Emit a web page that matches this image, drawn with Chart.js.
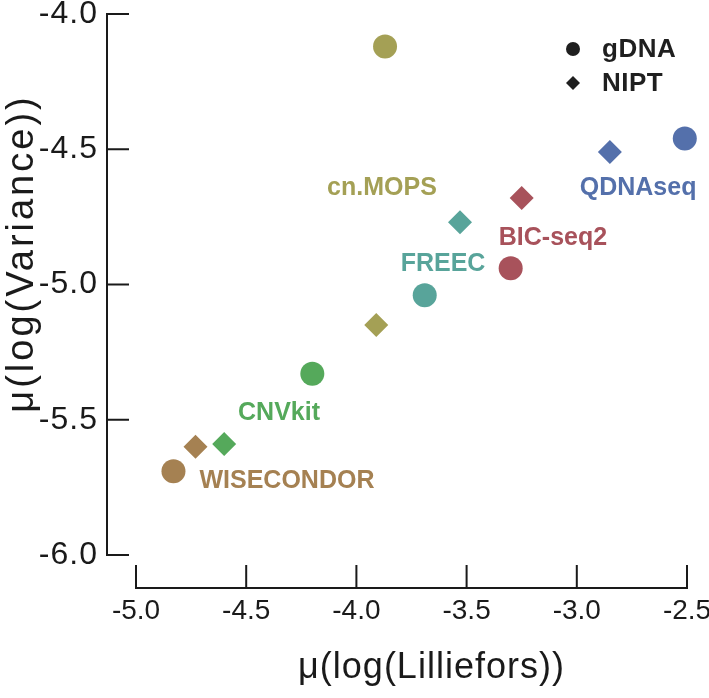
<!DOCTYPE html>
<html>
<head>
<meta charset="utf-8">
<script src="https://cdn.jsdelivr.net/npm/chart.js@4.4.1/dist/chart.umd.min.js"></script>
<style>
  html, body { margin: 0; padding: 0; background: #fff; }
  #wrap { width: 709px; height: 698px; }
</style>
</head>
<body>
<div id="wrap"><canvas id="chart" width="709" height="698"></canvas></div>
<script>
// ---- data ----
const methods = ['cn.MOPS', 'QDNAseq', 'BIC-seq2', 'FREEC', 'CNVkit', 'WISECONDOR'];
const gdnaX = [-3.87, -2.51, -3.30, -3.69, -4.20, -4.83];
const gdnaY = [-4.12, -4.46, -4.94, -5.04, -5.33, -5.69];
const niptX = [-3.91, -2.85, -3.25, -3.53, -4.60, -4.73];
const niptY = [-5.15, -4.51, -4.68, -4.77, -5.59, -5.60];
const xTicks = [-5.0, -4.5, -4.0, -3.5, -3.0, -2.5];
const yTicks = [-6.0, -5.5, -5.0, -4.5, -4.0];

// colours per method
const methodColors = ['#a4a055', '#5470ab', '#a8525b', '#58a49a', '#55a95b', '#a58152'];
// where each method name is written (data units)
const labelX = [-3.884, -2.722, -3.108, -3.607, -4.351, -4.315];
const labelY = [-4.643, -4.643, -4.828, -4.924, -5.475, -5.726];

const FONT = "'Liberation Sans', Arial, Helvetica, sans-serif";
Chart.defaults.font.family = FONT;
Chart.defaults.color = '#1a1a1a';

function toPoints(xs, ys) {
    return xs.map((v, i) => ({ x: v, y: ys[i] }));
}

// fixed box sizes, no extra label padding
function fixBox(size, horizontal) {
    return s => {
        if (horizontal) s.height = size; else s.width = size;
        s.paddingTop = s.paddingBottom = s.paddingLeft = s.paddingRight = 0;
    };
}

// the figure's text is tracked out a bit; titles are also nudged along the axis
const textStyle = {
    x: { labels: '0px', title: '1px', shift: [20, 0] },
    y: { labels: '1px', title: '3px', shift: [0, -31] }
};
function wrapDraw(scale, name, spacing, shift) {
    const orig = scale[name];
    scale[name] = function () {
        const c = this.ctx;
        c.save();
        if (shift) c.translate(shift[0], shift[1]);
        c.letterSpacing = spacing;
        orig.apply(this, arguments);
        c.restore();
    };
}
const trackPlugin = {
    id: 'track',
    afterLayout(chart) {
        Object.keys(textStyle).forEach(id => {
            const sc = chart.scales[id];
            if (sc._tracked) return;
            const st = textStyle[id];
            wrapDraw(sc, 'drawLabels', st.labels, null);
            wrapDraw(sc, 'drawTitle', st.title, st.shift);
            sc._tracked = true;
        });
    }
};

// offset axis lines with inward ticks + method labels + legend
const decorPlugin = {
    id: 'decor',
    afterDraw(chart) {
        const { ctx, chartArea } = chart;
        const xs = chart.scales.x, ys = chart.scales.y;
        const ax = chartArea.left - 29;
        const ay = chartArea.bottom + 33;
        ctx.save();
        ctx.strokeStyle = '#1a1a1a';
        ctx.lineWidth = 2;
        ctx.lineCap = 'square';
        ctx.beginPath();
        ctx.moveTo(ax, ys.getPixelForValue(ys.max));
        ctx.lineTo(ax, ys.getPixelForValue(ys.min));
        yTicks.forEach(v => {
            const py = ys.getPixelForValue(v);
            ctx.moveTo(ax, py);
            ctx.lineTo(ax + 21, py);
        });
        ctx.moveTo(xs.getPixelForValue(xs.min), ay);
        ctx.lineTo(xs.getPixelForValue(xs.max), ay);
        xTicks.forEach(v => {
            const px = xs.getPixelForValue(v);
            ctx.moveTo(px, ay);
            ctx.lineTo(px, ay - 22);
        });
        ctx.stroke();

        // method names
        ctx.font = 'bold 25px ' + FONT;
        ctx.textAlign = 'center';
        ctx.textBaseline = 'middle';
        methods.forEach((m, i) => {
            ctx.fillStyle = methodColors[i];
            ctx.fillText(m, xs.getPixelForValue(labelX[i]), ys.getPixelForValue(labelY[i]));
        });

        // legend, top right
        const lx = chartArea.right - 114;
        const ly = chartArea.top + 35;
        ctx.fillStyle = '#1f1f1f';
        ctx.beginPath();
        ctx.arc(lx, ly, 7, 0, Math.PI * 2);
        ctx.fill();
        ctx.beginPath();
        ctx.moveTo(lx - 7, ly + 34);
        ctx.lineTo(lx, ly + 27);
        ctx.lineTo(lx + 7, ly + 34);
        ctx.lineTo(lx, ly + 41);
        ctx.closePath();
        ctx.fill();
        ctx.textAlign = 'left';
        ctx.font = 'bold 26px ' + FONT;
        ctx.letterSpacing = '0.5px';
        ctx.fillText('gDNA', lx + 29, ly + 1);
        ctx.fillText('NIPT', lx + 29, ly + 35);
        ctx.restore();
    }
};

const ctx = document.getElementById('chart').getContext('2d');
new Chart(ctx, {
    type: 'scatter',
    data: {
        datasets: [
            {
                label: 'gDNA',
                data: toPoints(gdnaX, gdnaY),
                pointStyle: 'circle',
                pointRadius: 12,
                pointHoverRadius: 12,
                backgroundColor: methodColors,
                borderWidth: 0
            },
            {
                label: 'NIPT',
                data: toPoints(niptX, niptY),
                pointStyle: 'rectRot',
                pointRadius: 12,
                pointHoverRadius: 12,
                backgroundColor: methodColors,
                borderWidth: 0
            }
        ]
    },
    options: {
        responsive: false,
        animation: false,
        clip: false,
        layout: { padding: { top: 14, right: 22, left: 0, bottom: 0 } },
        plugins: {
            legend: { display: false },
            tooltip: { enabled: false }
        },
        scales: {
            x: {
                type: 'linear',
                min: -5.0,
                max: -2.5,
                afterBuildTicks: s => { s.ticks = xTicks.map(v => ({ value: v })); },
                afterFit: fixBox(143, true),
                grid: { display: false, drawTicks: false },
                border: { display: false },
                ticks: {
                    padding: 39,
                    font: { size: 28 },
                    color: '#1a1a1a',
                    maxRotation: 0,
                    callback: v => v.toFixed(1)
                },
                title: {
                    display: true,
                    text: 'μ(log(Lilliefors))',
                    font: { size: 36 },
                    color: '#1a1a1a',
                    padding: { top: 0, bottom: 8 }
                }
            },
            y: {
                type: 'linear',
                min: -6.0,
                max: -4.0,
                afterBuildTicks: s => { s.ticks = yTicks.map(v => ({ value: v })); },
                afterFit: fixBox(136, false),
                grid: { display: false, drawTicks: false },
                border: { display: false },
                ticks: {
                    padding: 38,
                    font: { size: 32 },
                    color: '#1a1a1a',
                    callback: v => v.toFixed(1)
                },
                title: {
                    display: true,
                    text: 'μ(log(Variance))',
                    font: { size: 38 },
                    color: '#1a1a1a',
                    padding: { top: 0, bottom: 0 }
                }
            }
        }
    },
    plugins: [trackPlugin, decorPlugin]
});
</script>
</body>
</html>
